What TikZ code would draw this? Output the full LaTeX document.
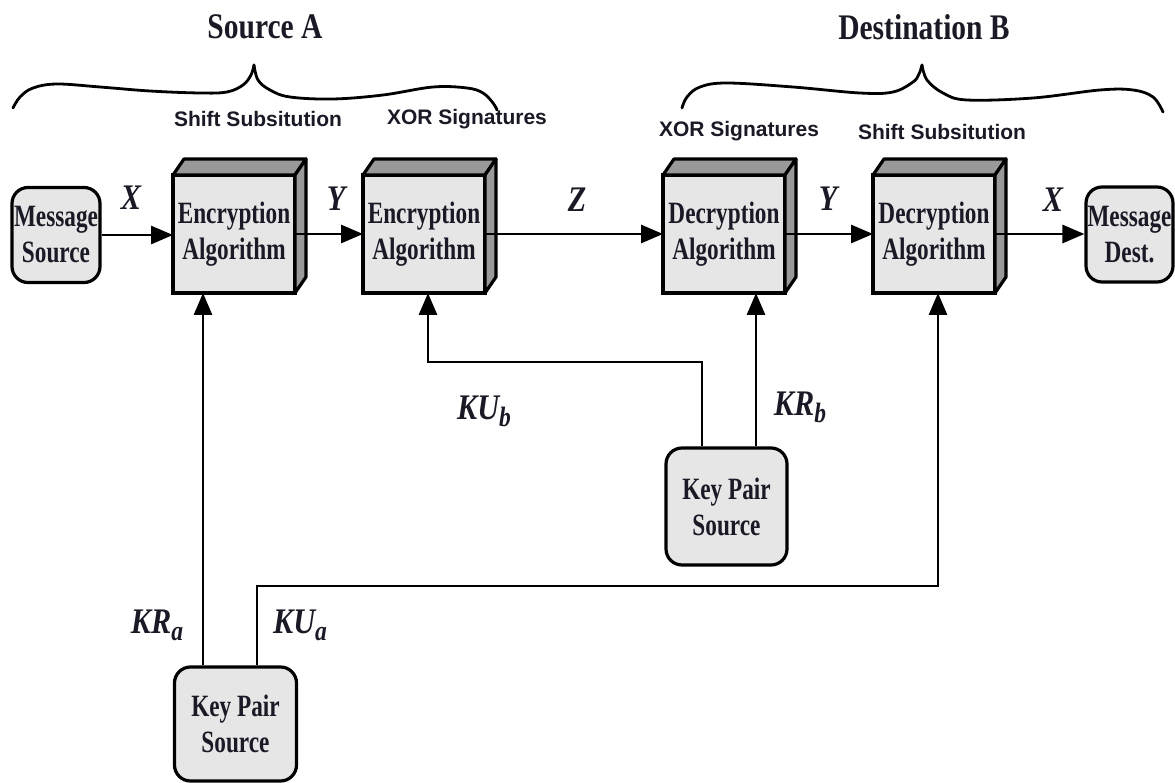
\documentclass[tikz,border=0pt]{standalone}
\usepackage{fontspec}
\setmainfont{Liberation Serif}
\newfontfamily\boxfont[FakeStretch=0.75]{Liberation Serif}
\newfontfamily\headfont[FakeStretch=0.82]{Liberation Serif}
\newfontfamily\labfont[FakeStretch=0.84]{Liberation Serif}
\newfontfamily\capfont{Liberation Sans}
\usetikzlibrary{arrows.meta,calc}
\definecolor{boxfill}{HTML}{E6E6E6}
\definecolor{facefill}{HTML}{999999}
\definecolor{ink}{HTML}{1A1A26}
\newcommand\subl[1]{\raisebox{-7pt}{\fontsize{28}{28}\selectfont #1}}
\begin{document}
\begin{tikzpicture}[x=1pt,y=-1pt,
  every node/.style={text=ink},
  front/.style={draw=black,line width=3.2pt,fill=boxfill,minimum width=122pt,
    minimum height=118pt,inner sep=0pt,outer sep=0pt,align=center,
    font=\boxfont\bfseries\fontsize{31}{36}\selectfont},
  face/.style={draw=black,line width=3.2pt,fill=facefill,line join=round},
  rbox/.style={draw=black,line width=3.2pt,fill=boxfill,rounded corners=16pt,
    inner sep=0pt,align=center,font=\boxfont\bfseries\fontsize{31}{36}\selectfont},
  conn/.style={line width=2.9pt,-{Triangle[length=22pt,width=18pt]}},
  lab/.style={font=\labfont\bfseries\itshape\fontsize{36}{38}\selectfont},
  head/.style={font=\headfont\bfseries\fontsize{36}{40}\selectfont},
  captxt/.style={font=\capfont\bfseries\fontsize{21}{24}\selectfont},
  brace/.style={line width=2.8pt,line cap=round}]
\useasboundingbox (0,0) rectangle (1175,783);

% boxes
\node[rbox,minimum width=88pt,minimum height=95pt] (ms) at (56,235) {Message\\Source};
\node[rbox,minimum width=87pt,minimum height=95pt] (md) at (1129.5,234.5) {Message\\Dest.};
\node[front] (enc1) at (234,234) {Encryption\\Algorithm};
\node[front] (enc2) at (424,234) {Encryption\\Algorithm};
\node[front] (dec1) at (724,234) {Decryption\\Algorithm};
\node[front] (dec2) at (934,234) {Decryption\\Algorithm};
\node[rbox,minimum width=121pt,minimum height=117pt] (kpsb) at (726.5,506.5) {Key Pair\\Source};
\node[rbox,minimum width=122pt,minimum height=114pt] (kpsa) at (235.5,724) {Key Pair\\Source};

\foreach \n in {enc1,enc2,dec1,dec2} {
  \draw[face] (\n.north west) -- ++(11,-16) -- ($(\n.north east)+(11,-16)$) -- (\n.north east) -- cycle;
  \draw[face] (\n.north east) -- ++(11,-16) -- ($(\n.south east)+(11,-16)$) -- (\n.south east) -- cycle;
}

% main flow
\draw[conn] (ms.east) -- (ms.east -| enc1.west);
\draw[conn] (enc1.east) -- (enc1.east -| enc2.west);
\draw[conn] (enc2.east) -- (enc2.east -| dec1.west);
\draw[conn] (dec1.east) -- (dec1.east -| dec2.west);
\draw[conn] (dec2.east) -- (dec2.east -| md.west);

% key lines
\coordinate (kubc) at (428,362);
\coordinate (kuac) at (938,586);
\draw[conn] (kpsa.north -| 203,0) -- (enc1.south -| 203,0);
\draw[conn] (kpsa.north -| 257,0) |- (kuac) -- (dec2.south -| kuac);
\draw[conn] (kpsb.north -| 702,0) |- (kubc) -- (enc2.south -| kubc);
\draw[conn] (kpsb.north -| 756,0) -- (dec1.south -| 756,0);

% labels
\node[lab] (lx1) at (131,198) {X};
\node[lab] (ly1) at (336,199) {Y};
\node[lab] (lz) at (577,200) {Z};
\node[lab] (ly2) at (828,199) {Y};
\node[lab] (lx2) at (1053,200) {X};
\node[lab] (lkub) at (484,411) {KU\subl{b}};
\node[lab] (lkrb) at (800,407) {KR\subl{b}};
\node[lab] (lkra) at (157,625) {KR\subl{a}};
\node[lab] (lkua) at (300,625) {KU\subl{a}};

% headings
\node[head] (srcA) at (265,27) {Source A};
\node[head] (dstB) at (924,27) {Destination B};
\node[captxt] (c1) at (258,119) {Shift Subsitution};
\node[captxt] (c2) at (467,119) {XOR Signatures};
\node[captxt] (c3) at (739,131) {XOR Signatures};
\node[captxt] (c4) at (942,132) {Shift Subsitution};

% braces
\draw[brace] plot[smooth,tension=0.6] coordinates {(13,108) (20,97) (33,88) (57,84) (100,87) (150,91) (200,93) (227,92) (243,85) (251,75) (254,65)};
\draw[brace] plot[smooth,tension=0.6] coordinates {(254,65) (258,80) (270,90) (290,97) (333,99) (383,95) (433,87) (467,88) (483,93) (493,103) (497,110)};
\draw[brace] plot[smooth,tension=0.6] coordinates {(682,108) (687,97) (700,87) (727,83) (793,87) (860,93) (893,92) (913,82) (919,74) (922,65)};
\draw[brace] plot[smooth,tension=0.6] coordinates {(922,65) (927,80) (943,93) (967,100) (1033,98) (1100,90) (1133,90) (1153,97) (1163,112)};
\end{tikzpicture}
\end{document}
